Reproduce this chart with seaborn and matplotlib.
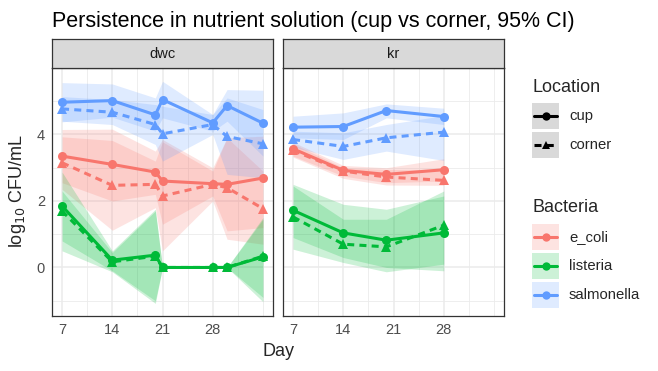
import pandas as pd
import matplotlib.pyplot as plt
import seaborn as sns
from matplotlib.patches import Rectangle
from matplotlib.lines import Line2D

# ---- data ----
days_dwc = [7, 14, 20, 21, 28, 30, 35]
days_kr = [7, 14, 20, 28]

# dwc
ecoli_cup_dwc = [3.35, 3.10, 2.87, 2.60, 2.52, 2.50, 2.69]
ecoli_cup_dwc_lo = [2.55, 2.00, 2.20, 1.30, 2.15, 1.10, 1.20]
ecoli_cup_dwc_hi = [4.15, 4.16, 3.50, 3.85, 3.00, 3.90, 3.95]
ecoli_cor_dwc = [3.15, 2.47, 2.50, 2.15, 2.50, 2.40, 1.77]
ecoli_cor_dwc_lo = [2.35, 1.12, 1.80, 0.50, 2.00, 0.85, 0.70]
ecoli_cor_dwc_hi = [3.93, 3.82, 3.20, 3.78, 2.90, 3.90, 2.90]

list_cup_dwc = [1.85, 0.22, 0.37, 0.0, 0.0, 0.0, 0.32]
list_cup_dwc_lo = [0.80, -0.10, -1.00, 0.0, 0.0, 0.0, -0.90]
list_cup_dwc_hi = [2.87, 0.50, 1.75, 0.0, 0.0, 0.0, 1.50]
list_cor_dwc = [1.70, 0.17, 0.34, 0.0, 0.0, 0.0, 0.34]
list_cor_dwc_lo = [0.50, -0.13, -1.08, 0.0, 0.0, 0.0, -1.03]
list_cor_dwc_hi = [2.30, 0.45, 1.70, 0.0, 0.0, 0.0, 1.45]

salm_cup_dwc = [4.97, 5.02, 4.59, 5.05, 4.35, 4.87, 4.34]
salm_cup_dwc_lo = [4.38, 4.52, 4.10, 4.50, 4.10, 4.40, 3.35]
salm_cup_dwc_hi = [5.56, 5.52, 5.10, 5.60, 4.60, 5.35, 5.33]
salm_cor_dwc = [4.77, 4.67, 4.30, 4.02, 4.30, 3.94, 3.72]
salm_cor_dwc_lo = [4.40, 4.30, 3.70, 3.20, 4.00, 2.80, 2.70]
salm_cor_dwc_hi = [5.14, 5.05, 4.90, 4.85, 4.60, 5.10, 4.75]

# kr
ecoli_cup_kr = [3.57, 2.92, 2.80, 2.94]
ecoli_cup_kr_lo = [3.35, 2.75, 2.55, 2.60]
ecoli_cup_kr_hi = [3.77, 3.07, 3.00, 3.27]
ecoli_cor_kr = [3.52, 2.90, 2.72, 2.62]
ecoli_cor_kr_lo = [3.32, 2.68, 2.48, 2.47]
ecoli_cor_kr_hi = [3.72, 3.00, 2.95, 2.95]

list_cup_kr = [1.72, 1.04, 0.82, 1.04]
list_cup_kr_lo = [0.90, 0.30, 0.00, -0.10]
list_cup_kr_hi = [2.50, 1.90, 1.75, 2.15]
list_cor_kr = [1.52, 0.70, 0.62, 1.27]
list_cor_kr_lo = [0.55, 0.15, -0.13, 0.10]
list_cor_kr_hi = [2.45, 1.45, 1.45, 2.30]

salm_cup_kr = [4.22, 4.24, 4.72, 4.54]
salm_cup_kr_lo = [3.90, 3.85, 4.50, 4.30]
salm_cup_kr_hi = [4.55, 4.65, 4.92, 4.79]
salm_cor_kr = [3.85, 3.64, 3.90, 4.07]
salm_cor_kr_lo = [3.62, 3.25, 3.50, 3.22]
salm_cor_kr_hi = [4.10, 4.05, 4.30, 4.57]

bacteria = ['e_coli', 'listeria', 'salmonella']
locations = ['cup', 'corner']
systems = ['dwc', 'kr']
pal = {'e_coli': '#F8766D', 'listeria': '#00BA38', 'salmonella': '#619CFF'}

rows = []


def add(system, bact, loc, days, mean, lo, hi):
    for d, m, l, h in zip(days, mean, lo, hi):
        rows.append(dict(System=system, Bacteria=bact, Location=loc,
                         Day=d, mean=m, lo=l, hi=h))


add('dwc', 'e_coli', 'cup', days_dwc, ecoli_cup_dwc, ecoli_cup_dwc_lo, ecoli_cup_dwc_hi)
add('dwc', 'e_coli', 'corner', days_dwc, ecoli_cor_dwc, ecoli_cor_dwc_lo, ecoli_cor_dwc_hi)
add('dwc', 'listeria', 'cup', days_dwc, list_cup_dwc, list_cup_dwc_lo, list_cup_dwc_hi)
add('dwc', 'listeria', 'corner', days_dwc, list_cor_dwc, list_cor_dwc_lo, list_cor_dwc_hi)
add('dwc', 'salmonella', 'cup', days_dwc, salm_cup_dwc, salm_cup_dwc_lo, salm_cup_dwc_hi)
add('dwc', 'salmonella', 'corner', days_dwc, salm_cor_dwc, salm_cor_dwc_lo, salm_cor_dwc_hi)
add('kr', 'e_coli', 'cup', days_kr, ecoli_cup_kr, ecoli_cup_kr_lo, ecoli_cup_kr_hi)
add('kr', 'e_coli', 'corner', days_kr, ecoli_cor_kr, ecoli_cor_kr_lo, ecoli_cor_kr_hi)
add('kr', 'listeria', 'cup', days_kr, list_cup_kr, list_cup_kr_lo, list_cup_kr_hi)
add('kr', 'listeria', 'corner', days_kr, list_cor_kr, list_cor_kr_lo, list_cor_kr_hi)
add('kr', 'salmonella', 'cup', days_kr, salm_cup_kr, salm_cup_kr_lo, salm_cup_kr_hi)
add('kr', 'salmonella', 'corner', days_kr, salm_cor_kr, salm_cor_kr_lo, salm_cor_kr_hi)
df = pd.DataFrame(rows)

# ---- style ----
sns.set_style('white')
plt.rcParams['font.family'] = ['Liberation Sans', 'DejaVu Sans']

W, H = 658, 371
fig = plt.figure(figsize=(W / 100, H / 100), dpi=100)


def frac(x0, y0, x1, y1):
    # pixel box (top-left origin) -> figure fraction
    return [x0 / W, 1 - y1 / H, (x1 - x0) / W, (y1 - y0) / H]


panel_x = {'dwc': (52, 273), 'kr': (283, 504)}
top, bottom, strip_top = 68, 316, 39
dash = (2.3, 1.7)

for system in systems:
    x0, x1 = panel_x[system]
    ax = fig.add_axes(frac(x0, top, x1, bottom))
    sub = df[df['System'] == system]
    # ribbons first
    for b in bacteria:
        for loc in locations:
            g = sub[(sub['Bacteria'] == b) & (sub['Location'] == loc)]
            ax.fill_between(g['Day'], g['lo'], g['hi'], color=pal[b], alpha=0.2, lw=0)
    sns.lineplot(data=sub, x='Day', y='mean', hue='Bacteria', style='Location',
                 hue_order=bacteria, style_order=locations, palette=pal,
                 markers={'cup': 'o', 'corner': '^'},
                 dashes={'cup': '', 'corner': dash},
                 estimator=None, errorbar=None, lw=2.2, markersize=6.5,
                 markeredgewidth=0, legend=False, ax=ax)
    ax.set_xlim(5.6, 36.4)
    ax.set_ylim(-1.46, 6.0)
    ax.set_xticks([7, 14, 21, 28])
    ax.set_xticks([10.5, 17.5, 24.5, 31.5, 35], minor=True)
    ax.set_yticks([0, 2, 4])
    ax.set_yticks([-1, 1, 3, 5], minor=True)
    ax.set_axisbelow(True)
    ax.grid(which='major', color='#EBEBEB', lw=1.1)
    ax.grid(which='minor', color='#EBEBEB', lw=0.6)
    ax.tick_params(which='minor', length=0)
    ax.tick_params(which='major', length=3, width=0.8, color='#333333',
                   labelsize=10.5, labelcolor='#4D4D4D', pad=2)
    if system == 'kr':
        ax.tick_params(axis='y', length=0, labelleft=False)
    for s in ax.spines.values():
        s.set_color('#333333')
        s.set_linewidth(0.9)
    ax.set_xlabel('')
    ax.set_ylabel('')

    # facet strip
    sax = fig.add_axes(frac(x0, strip_top, x1, top))
    sax.set_facecolor('#D9D9D9')
    sax.set_xticks([])
    sax.set_yticks([])
    for s in sax.spines.values():
        s.set_color('#333333')
        s.set_linewidth(0.9)
    sax.text(0.5, 0.5, system, ha='center', va='center', fontsize=10.5,
             color='#1A1A1A', transform=sax.transAxes)

fig.text(52 / W, 1 - 27 / H, 'Persistence in nutrient solution (cup vs corner, 95% CI)',
         fontsize=15.5, ha='left', va='baseline', color='black')
fig.text(278 / W, 1 - 351 / H, 'Day', fontsize=13, ha='center', va='center')
fig.text(18 / W, 1 - 191 / H, r'log$_{10}$ CFU/mL', fontsize=13, ha='center',
         va='center', rotation=90)

# ---- legends (ggplot-like, drawn in pixel space) ----
lax = fig.add_axes([0, 0, 1, 1])
lax.set_xlim(0, W)
lax.set_ylim(H, 0)
lax.axis('off')
kx, kw, kh = 532, 27, 26

lax.text(kx, 87, 'Location', fontsize=13, va='center', ha='left')
for i, loc in enumerate(locations):
    ky = 103 + i * 29
    lax.add_patch(Rectangle((kx, ky), kw, kh, color='#D9D9D9', lw=0))
    ls = '-' if loc == 'cup' else (0, dash)
    lax.add_line(Line2D([kx + 2, kx + kw - 2], [ky + kh / 2] * 2, color='black',
                        lw=2.2, linestyle=ls))
    lax.plot(kx + kw / 2, ky + kh / 2, marker='o' if loc == 'cup' else '^',
             color='black', markersize=6, markeredgewidth=0)
    lax.text(kx + 37, ky + kh / 2, loc, fontsize=10.7, va='center', ha='left')

lax.text(kx, 207, 'Bacteria', fontsize=13, va='center', ha='left')
for i, b in enumerate(bacteria):
    ky = 224 + i * 29
    lax.add_patch(Rectangle((kx, ky), kw, kh, color=pal[b], alpha=0.2, lw=0))
    lax.add_line(Line2D([kx + 2, kx + kw - 2], [ky + kh / 2] * 2, color=pal[b], lw=2.2))
    lax.plot(kx + kw / 2, ky + kh / 2, marker='o', color=pal[b], markersize=6,
             markeredgewidth=0)
    lax.text(kx + 37, ky + kh / 2, b, fontsize=10.7, va='center', ha='left')

fig.savefig('out.png', dpi=100)
